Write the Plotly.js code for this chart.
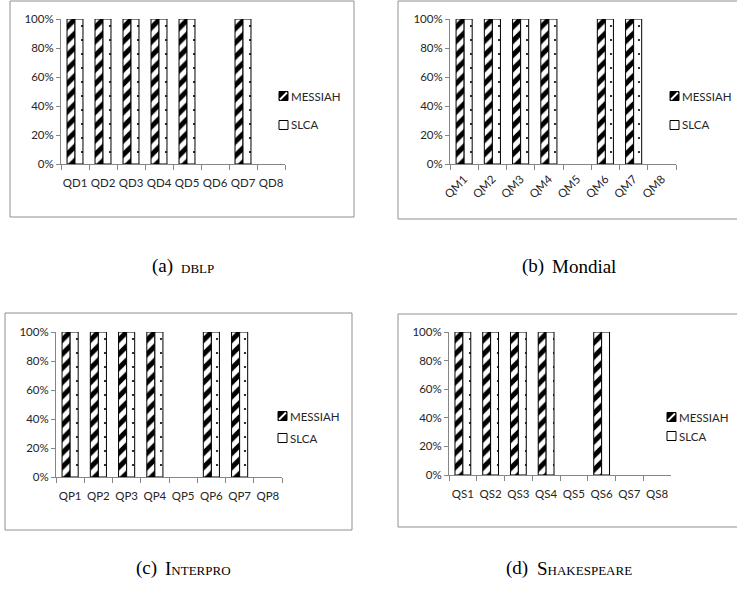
<!DOCTYPE html>
<html>
<head>
<meta charset="utf-8">
<script src="https://cdn.plot.ly/plotly-3.0.1.min.js"></script>
<style>
  html, body { margin: 0; padding: 0; background: #fff; }
  #chart { width: 737px; height: 594px; }
</style>
</head>
<body>
<div id="chart"></div>
<script>
// Query result coverage (share of queries answered) per dataset
const dblpQueries = ['QD1', 'QD2', 'QD3', 'QD4', 'QD5', 'QD6', 'QD7', 'QD8'];
const dblpMessiah = [1, 1, 1, 1, 1, 0, 1, 0];
const dblpSlca    = [1, 1, 1, 1, 1, 0, 1, 0];

const mondialQueries = ['QM1', 'QM2', 'QM3', 'QM4', 'QM5', 'QM6', 'QM7', 'QM8'];
const mondialMessiah = [1, 1, 1, 1, 0, 1, 1, 0];
const mondialSlca    = [1, 1, 1, 1, 0, 1, 1, 0];

const interproQueries = ['QP1', 'QP2', 'QP3', 'QP4', 'QP5', 'QP6', 'QP7', 'QP8'];
const interproMessiah = [1, 1, 1, 1, 0, 1, 1, 0];
const interproSlca    = [1, 1, 1, 1, 0, 1, 1, 0];

const shakespeareQueries = ['QS1', 'QS2', 'QS3', 'QS4', 'QS5', 'QS6', 'QS7', 'QS8'];
const shakespeareMessiah = [1, 1, 1, 1, 0, 1, 0, 0];
const shakespeareSlca    = [1, 1, 1, 1, 0, 1, 0, 0];

const seriesNames = ['MESSIAH', 'SLCA'];
const yTicks = [0, 0.2, 0.4, 0.6, 0.8, 1.0];

const panels = [
  { tag: '(a)', name: 'dblp',        smallCaps: true,  queries: dblpQueries,        messiah: dblpMessiah,        slca: dblpSlca },
  { tag: '(b)', name: 'Mondial',     smallCaps: false, queries: mondialQueries,     messiah: mondialMessiah,     slca: mondialSlca },
  { tag: '(c)', name: 'Interpro',    smallCaps: true,  queries: interproQueries,    messiah: interproMessiah,    slca: interproSlca },
  { tag: '(d)', name: 'Shakespeare', smallCaps: true,  queries: shakespeareQueries, messiah: shakespeareMessiah, slca: shakespeareSlca }
];

// ---- page geometry (pixels), converted to paper fractions ----
const W = 737, H = 594;
const px = v => v / W;
const py = v => 1 - v / H;

// plot areas: [left, right, top(100%), bottom(0%)]
const plotAreas = [
  [61, 285, 19, 164],
  [450, 676, 19, 164],
  [56, 282, 332, 477],
  [449, 671, 332, 475]
];
// frames around each chart: [left, right, top, bottom]
const frames = [
  [10, 354, 1, 217],
  [398, 760, 1, 219],
  [5, 352, 313, 530],
  [398, 760, 314, 527]
];
// legend placement: [swatch left, first row y, second row y]
const legendPos = [
  [279, 96, 125],
  [670, 96, 125],
  [278, 416, 438],
  [667, 417, 436]
];
// caption centres: [x, y]
const captionPos = [
  [181, 266],
  [567, 266],
  [181, 568],
  [567, 568]
];

const axisGray = '#868686';
const textColor = '#262626';
const tickFont = { family: 'Lato, "Liberation Sans", sans-serif', size: 11.5, color: textColor };
const captionFamily = '"Liberation Serif", "Times New Roman", serif';
const captionSize = 19;
const captionGap = 8;

// width of a caption string, used to centre tag + name as one line
const measureCtx = document.createElement('canvas').getContext('2d');
function textWidth(str, smallCaps) {
  measureCtx.font = captionSize + 'px ' + captionFamily;
  measureCtx.fontVariantCaps = smallCaps ? 'small-caps' : 'normal';
  return measureCtx.measureText(str).width;
}

const traces = [];
const layout = {
  width: W, height: H,
  margin: { l: 0, r: 0, t: 0, b: 0 },
  paper_bgcolor: '#fff',
  plot_bgcolor: 'rgba(0,0,0,0)',
  showlegend: false,
  barmode: 'group',
  bargap: 0.43,
  bargroupgap: 0,
  shapes: [],
  annotations: []
};

// empty bars get no outline so nothing sits on the axis
const outlineWidths = vals => vals.map(v => (v > 0 ? 1 : 0));

panels.forEach((p, i) => {
  const n = i + 1;
  const xa = n === 1 ? 'x' : 'x' + n;
  const ya = n === 1 ? 'y' : 'y' + n;
  const [l, r, t, b] = plotAreas[i];

  traces.push({
    type: 'bar', name: seriesNames[0], x: p.queries, y: p.messiah,
    xaxis: xa, yaxis: ya, hoverinfo: 'x+y+name',
    marker: {
      color: 'white',
      line: { color: 'black', width: outlineWidths(p.messiah) },
      pattern: { shape: '/', size: 10, solidity: 0.5, fgcolor: 'black', bgcolor: 'white', fillmode: 'replace' }
    }
  });
  traces.push({
    type: 'bar', name: seriesNames[1], x: p.queries, y: p.slca,
    xaxis: xa, yaxis: ya, hoverinfo: 'x+y+name',
    marker: {
      color: 'white',
      line: { color: 'black', width: outlineWidths(p.slca) },
      pattern: { shape: '.', size: 14, solidity: 0.02, fgcolor: 'black', bgcolor: 'white', fillmode: 'replace' }
    }
  });

  const xKey = n === 1 ? 'xaxis' : 'xaxis' + n;
  const yKey = n === 1 ? 'yaxis' : 'yaxis' + n;
  layout[xKey] = {
    domain: [px(l), px(r)],
    anchor: ya,
    type: 'category',
    range: [-0.5, p.queries.length - 0.5],
    showline: true, linecolor: axisGray, linewidth: 1,
    ticks: 'outside', tickson: 'boundaries', ticklen: 5, tickcolor: axisGray, tickwidth: 1,
    showgrid: false, zeroline: false,
    tickangle: n === 2 ? -45 : 0,
    ticklabelstandoff: n === 2 ? 3 : 8,
    tickfont: tickFont,
    fixedrange: true
  };
  layout[yKey] = {
    domain: [py(b), py(t)],
    anchor: xa,
    range: [0, 1],
    tickvals: yTicks,
    tickformat: '.0%',
    showline: true, linecolor: axisGray, linewidth: 1,
    ticks: 'outside', ticklen: 4, tickcolor: axisGray, tickwidth: 1,
    showgrid: false, zeroline: false,
    ticklabelstandoff: 0,
    tickfont: tickFont,
    fixedrange: true
  };

  // frame around the chart
  const [fl, fr, ft, fb] = frames[i];
  layout.shapes.push({
    type: 'rect', xref: 'paper', yref: 'paper',
    x0: px(fl), x1: px(fr), y0: py(fb), y1: py(ft),
    line: { color: '#8f8f8f', width: 1 }, fillcolor: 'rgba(0,0,0,0)', layer: 'below'
  });

  // legend swatches and labels
  const [sx, ry1, ry2] = legendPos[i];
  const s = 9;
  // MESSIAH swatch: dark square crossed by a light diagonal
  layout.shapes.push({
    type: 'rect', xref: 'paper', yref: 'paper',
    x0: px(sx), x1: px(sx + s), y0: py(ry1 + s / 2), y1: py(ry1 - s / 2),
    line: { color: 'black', width: 1 }, fillcolor: 'black'
  });
  layout.shapes.push({
    type: 'line', xref: 'paper', yref: 'paper',
    x0: px(sx + 1), y0: py(ry1 + s / 2 - 1), x1: px(sx + s - 1), y1: py(ry1 - s / 2 + 1),
    line: { color: 'white', width: 2 }
  });
  // SLCA swatch: open square
  layout.shapes.push({
    type: 'rect', xref: 'paper', yref: 'paper',
    x0: px(sx), x1: px(sx + s), y0: py(ry2 + s / 2), y1: py(ry2 - s / 2),
    line: { color: 'black', width: 1 }, fillcolor: 'white'
  });
  [[seriesNames[0], ry1], [seriesNames[1], ry2]].forEach(([label, ry]) => {
    layout.annotations.push({
      xref: 'paper', yref: 'paper', x: px(sx + s + 1), y: py(ry),
      xanchor: 'left', yanchor: 'middle', showarrow: false,
      text: label, font: tickFont
    });
  });

  // caption below the chart: tag in roman, dataset name (small caps where used)
  const [cx, cy] = captionPos[i];
  const wTag = textWidth(p.tag, false);
  const wName = textWidth(p.name, p.smallCaps);
  const start = cx - (wTag + captionGap + wName) / 2;
  layout.annotations.push({
    xref: 'paper', yref: 'paper', x: px(start), y: py(cy),
    xanchor: 'left', yanchor: 'middle', showarrow: false,
    text: p.tag,
    font: { family: captionFamily, size: captionSize, color: 'black' }
  });
  layout.annotations.push({
    xref: 'paper', yref: 'paper', x: px(start + wTag + captionGap), y: py(cy),
    xanchor: 'left', yanchor: 'middle', showarrow: false,
    text: p.name,
    font: { family: captionFamily, size: captionSize, color: 'black', variant: p.smallCaps ? 'small-caps' : 'normal' }
  });
});

Plotly.newPlot('chart', traces, layout, { staticPlot: true, displayModeBar: false });
</script>
</body>
</html>
